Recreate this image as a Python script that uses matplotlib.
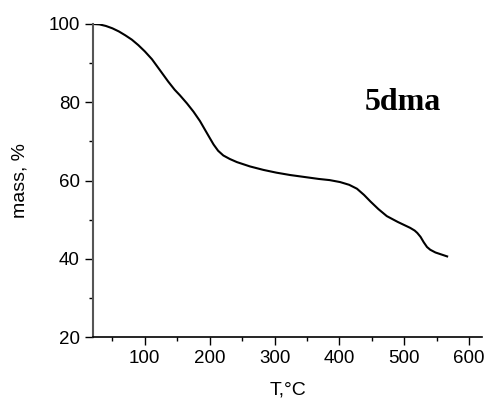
import matplotlib
matplotlib.use("Agg")
import matplotlib.pyplot as plt
from matplotlib.ticker import MultipleLocator

# TGA curve
temp = [20, 30, 40, 50, 60, 70, 80, 90, 100, 111, 122, 136, 146, 154, 165,
        175, 185, 193, 200, 206, 213, 221, 231, 242, 262, 283, 303, 324, 346,
        368, 385, 401, 415, 427, 438, 448, 460, 473, 490, 509, 516, 520, 525,
        530, 535, 540, 548, 557, 566]
mass = [100, 99.9, 99.5, 98.9, 98.1, 97.1, 96.0, 94.6, 93.0, 91.0, 88.5, 85.3,
        83.2, 81.8, 79.7, 77.6, 75.2, 72.9, 70.9, 69.2, 67.6, 66.4, 65.5, 64.7,
        63.6, 62.7, 62.0, 61.4, 60.9, 60.4, 60.1, 59.6, 58.9, 57.9, 56.3, 54.6,
        52.7, 50.9, 49.4, 47.9, 47.2, 46.6, 45.6, 44.2, 43.0, 42.3, 41.6, 41.1,
        40.6]
sample = "5dma"

plt.rcParams['font.family'] = ['Liberation Sans', 'DejaVu Sans']
fig = plt.figure(figsize=(4.89, 4.0), dpi=100)
ax = fig.add_axes([0.190, 0.1575, 0.796, 0.7825])
ax.plot(temp, mass, color='black', lw=1.5)

ax.set_xlim(20, 620)
ax.set_ylim(20, 100)
ax.xaxis.set_major_locator(MultipleLocator(100))
ax.xaxis.set_minor_locator(MultipleLocator(50))
ax.yaxis.set_major_locator(MultipleLocator(20))
ax.yaxis.set_minor_locator(MultipleLocator(10))
ax.spines['top'].set_visible(False)
ax.spines['right'].set_visible(False)
ax.spines['left'].set_color('#555555')
ax.spines['left'].set_linewidth(1.5)
ax.spines['bottom'].set_linewidth(1.2)
ax.tick_params(which='major', direction='out', length=6, width=1, labelsize=13.5)
ax.tick_params(which='minor', direction='out', length=3, width=1)
ax.set_xticks([100, 200, 300, 400, 500, 600])

ax.set_xlabel('T,°C', fontsize=14, labelpad=10)
ax.set_ylabel('mass, %', fontsize=14, labelpad=14)
ax.text(0.797, 0.75, sample, transform=ax.transAxes, fontsize=23,
        fontweight='bold', family='Liberation Serif', ha='center', va='center')

fig.savefig('out.png', dpi=100)
